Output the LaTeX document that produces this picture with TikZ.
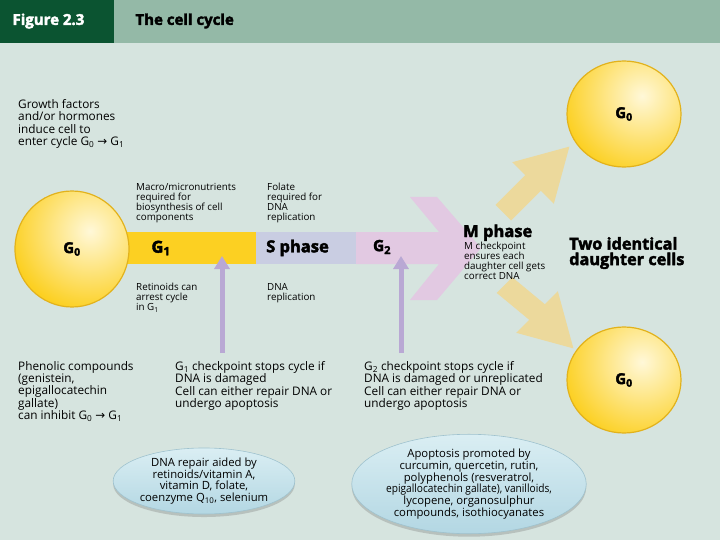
\documentclass[tikz,border=0pt]{standalone}
\usepackage{fontspec}
\setmainfont{Open Sans}[BoldFeatures={FakeBold=2.5}]
\newfontfamily\arrowfont{DejaVu Sans}
\usetikzlibrary{arrows.meta,shapes.geometric,shadows,calc}
\definecolor{bg}{HTML}{D6E4DF}
\definecolor{hdark}{HTML}{0B5431}
\definecolor{hlight}{HTML}{94B9A7}
\definecolor{cellyellow}{HTML}{FCD022}
\definecolor{cellhi}{HTML}{FFF8D8}
\definecolor{cellrim}{HTML}{E2B21C}
\definecolor{sphase}{HTML}{C9CDE2}
\definecolor{mpink}{HTML}{E2C9E2}
\definecolor{tan}{HTML}{ECD99C}
\definecolor{purp}{HTML}{B9A8D4}
\definecolor{ovtop}{HTML}{DAEEF3}
\definecolor{ovbot}{HTML}{B3D7E3}
\definecolor{ovrim}{HTML}{9FC2CE}
\newcommand{\myarrow}{{\arrowfont\char"2192}}
\newcommand{\cellball}[5]{%
  \begin{scope}
    \clip (#1,#2) ellipse [x radius=#3, y radius=#4];
    \fill[cellyellow] (#1,#2) ellipse [x radius=#3, y radius=#4];
    \shade[inner color=cellhi, outer color=cellyellow] ($(#1,#2)+(18,-18)$) circle (80);
  \end{scope}
  \draw[cellrim, line width=1.2pt] (#1,#2) ellipse [x radius=#3, y radius=#4];
  \node[lbl] (#5) at (#1,#2) {G\textsubscript{0}};
}
\tikzset{
  txt/.style={anchor=north west, inner sep=0pt, align=left, font=\fontsize{11.8}{12.4}\selectfont},
  small/.style={anchor=north west, inner sep=0pt, align=left, font=\fontsize{9.8}{10}\selectfont},
  lbl/.style={font=\bfseries\fontsize{15}{17}\selectfont, inner sep=0pt},
  oval/.style={ellipse, top color=ovtop, bottom color=ovbot, draw=ovrim, line width=0.6pt,
    align=center, inner sep=0pt, font=\fontsize{11.3}{11.8}\selectfont,
    drop shadow={opacity=0.35, shadow xshift=0pt, shadow yshift=-3pt}},
  chk/.style={draw=purp, line width=5pt, -{Triangle[width=15pt,length=13pt]}}
}
\begin{document}
\begin{tikzpicture}[x=1pt,y=-1pt]
\useasboundingbox (0,0) rectangle (720,540);
\fill[bg] (0,0) rectangle (720,540);
% header
\fill[hdark] (0,0) rectangle (114,43);
\fill[hlight] (114,0) rectangle (720,43);
\node[anchor=west, text=white, font=\bfseries\fontsize{15}{17}\selectfont] (fig) at (9,21) {Figure 2.3};
\node[anchor=west, font=\bfseries\fontsize{15}{17}\selectfont] (title) at (132,21) {The cell cycle};

% tan arrows
\fill[tan] (495.5,204.9) -- (525.2,175.2) -- (512.2,162.2) -- (569.4,146.6) -- (553.8,203.8) -- (540.8,190.8) -- (511.1,220.5) -- cycle;
\fill[tan] (512.3,277.3) -- (544.8,304.2) -- (557.8,291.2) -- (573.4,348.4) -- (516.2,332.8) -- (529.2,319.8) -- (496.7,292.9) -- cycle;

% bars
\fill[cellyellow] (100,232) rectangle (256,264);
\fill[sphase] (256,232) rectangle (356,264);
\fill[mpink] (356,232) -- (439,232) -- (410,197) -- (437,197) -- (481,248) -- (437,300) -- (410,300) -- (439,264) -- (356,264) -- cycle;

% cells
\cellball{72}{249}{57}{58}{g0left}
\cellball{624}{114}{57}{53}{g0top}
\cellball{624}{380}{57}{53}{g0bot}

\node[lbl, font=\bfseries\fontsize{16.5}{18}\selectfont] (g1) at (161,248) {G\textsubscript{1}};
\node[lbl, anchor=west, font=\bfseries\fontsize{16.5}{18}\selectfont] (sph) at (266,248) {S phase};
\node[lbl, font=\bfseries\fontsize{15.5}{18}\selectfont] (g2) at (382,247) {G\textsubscript{2}};
\node[lbl, anchor=base west, font=\bfseries\fontsize{16.5}{18}\selectfont] (mph) at (463,237) {M phase};
\node[small] (mchk) at (464,242) {M checkpoint\\ensures each\\daughter cell gets\\correct DNA};
\node[anchor=north west, inner sep=0pt, align=left, font=\bfseries\fontsize{16.3}{15.5}\selectfont] (two) at (569,237) {Two identical\\daughter cells};

% texts
\node[txt] (growth) at (18,99) {Growth factors\\and/or hormones\\induce cell to\\enter cycle G\textsubscript{0} \myarrow{} G\textsubscript{1}};
\node[small] (macro) at (136,183) {Macro/micronutrients\\required for\\biosynthesis of cell\\components};
\node[small] (folate) at (267,183) {Folate\\required for\\DNA\\replication};
\node[small] (retin) at (136,283) {Retinoids can\\arrest cycle\\in G\textsubscript{1}};
\node[small] (dnarep) at (267,283) {DNA\\replication};
\node[txt] (phen) at (18,361) {Phenolic compounds\\(genistein,\\epigallocatechin\\gallate)\\can inhibit G\textsubscript{0} \myarrow{} G\textsubscript{1}};
\node[txt] (g1chk) at (175,361) {G\textsubscript{1} checkpoint stops cycle if\\DNA is damaged\\Cell can either repair DNA or\\undergo apoptosis};
\node[txt] (g2chk) at (364,361) {G\textsubscript{2} checkpoint stops cycle if\\DNA is damaged or unreplicated\\Cell can either repair DNA or\\undergo apoptosis};

% checkpoint arrows
\coordinate (a1s) at (222,353);
\coordinate (a1e) at (222,256);
\coordinate (a2s) at (401,353);
\coordinate (a2e) at (401,256);
\draw[chk] (a1s) -- (a1e);
\draw[chk] (a2s) -- (a2e);

% ovals
\node[oval, minimum width=170pt, minimum height=66pt] (repair) at (204,481) {DNA repair aided by\\retinoids/vitamin A,\\vitamin D, folate,\\coenzyme Q\textsubscript{10}, selenium};
\node[oval, minimum width=224pt, minimum height=92pt] (apop) at (469,484) {Apoptosis promoted by\\curcumin, quercetin, rutin,\\polyphenols (resveratrol,\\\scalebox{0.9}[1]{epigallocatechin gallate), vanilloids,}\\lycopene, organosulphur\\compounds, isothiocyanates};
\end{tikzpicture}
\end{document}
